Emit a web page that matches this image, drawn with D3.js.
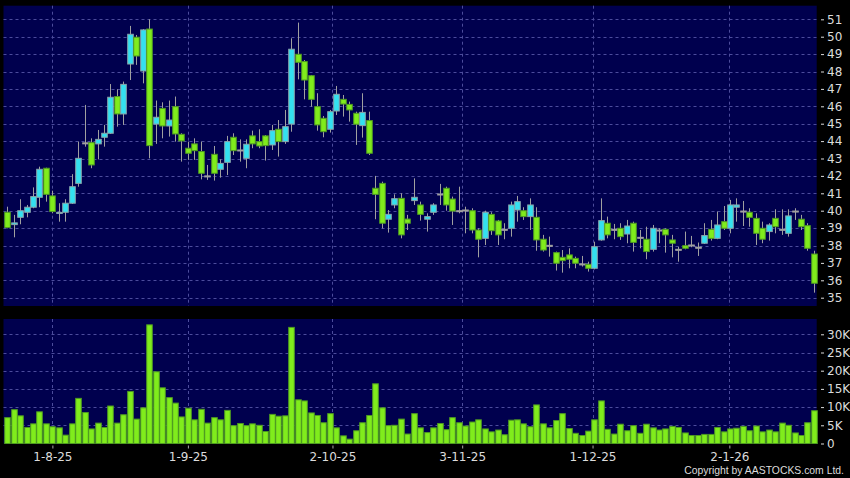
<!DOCTYPE html>
<html><head><meta charset="utf-8">
<script src="https://cdn.jsdelivr.net/npm/d3@7"></script>
<style>html,body{margin:0;padding:0;background:#000;}svg{display:block;}</style>
</head><body>
<script>
// ---- data ----
const opens  = [39.91,39.2,39.62,39.91,40.2,40.77,42.44,40.85,39.85,39.91,40.43,41.57,43.9,43.91,43.84,44.22,44.45,46.56,45.56,48.43,49.97,48.03,50.44,44.98,45.88,44.87,45.98,44.39,43.59,43.84,43.4,42.0,43.24,42.38,42.78,44.22,43.49,43.01,44.3,43.97,44.3,43.78,44.68,43.97,44.98,48.99,48.57,47.76,45.98,45.31,44.68,45.73,46.4,46.11,45.6,44.89,45.18,41.29,41.57,39.51,40.33,40.71,39.52,40.58,40.33,39.51,39.91,40.96,41.29,40.67,40.0,40.04,40.0,38.89,38.41,39.79,39.41,38.93,38.99,40.04,40.0,39.66,39.62,38.36,38.01,37.59,37.32,37.46,37.26,36.94,36.92,36.69,38.32,39.28,38.93,38.99,38.66,39.28,38.47,38.36,37.78,38.89,38.93,38.32,37.78,37.99,38.03,37.9,38.13,38.93,38.41,39.37,38.99,40.2,39.98,39.91,39.56,38.99,38.8,39.56,38.93,38.7,39.98,39.51,39.14,37.51];
const highs  = [40.23,39.76,40.66,40.33,41.34,42.53,42.47,41.15,40.43,40.66,42.1,43.97,46.08,44.16,44.64,44.93,47.28,46.98,47.42,50.62,50.1,50.43,51.0,46.33,46.23,46.33,46.56,44.45,43.97,44.16,43.97,42.63,43.72,42.95,44.3,44.45,44.1,44.1,44.6,44.68,44.35,44.93,45.21,45.79,49.91,50.81,48.66,47.8,46.75,45.44,45.79,47.17,46.65,46.27,45.69,46.75,45.69,42.0,41.67,40.04,40.94,41.0,39.76,41.86,40.52,39.85,40.43,41.54,41.38,40.81,41.38,40.23,40.14,38.99,40.0,39.91,39.47,39.28,40.52,40.85,40.2,40.71,40.2,38.61,38.51,37.65,37.74,37.84,37.36,37.4,37.07,38.22,40.71,39.66,39.24,39.28,39.47,39.37,38.89,39.08,39.18,38.99,38.99,38.61,37.93,38.8,38.55,38.17,39.28,39.47,39.95,40.27,40.62,40.71,40.56,40.14,39.85,39.37,39.28,40.08,40.08,40.08,40.14,39.76,39.28,37.7];
const lows   = [38.99,38.47,39.22,39.62,40.14,40.2,40.52,39.85,39.37,39.37,40.39,41.38,43.68,42.44,42.95,43.68,44.41,44.83,44.93,47.51,48.38,47.32,43.01,43.84,44.16,44.26,43.97,42.82,42.92,42.92,41.8,41.77,41.73,41.9,42.05,43.2,42.82,42.44,43.59,43.59,42.88,43.49,43.11,43.84,44.54,47.55,46.4,45.98,44.6,44.22,44.49,45.5,45.41,45.12,43.78,44.2,43.2,39.51,38.99,38.74,40.14,38.41,38.89,40.33,39.43,38.8,39.76,40.33,40.0,39.18,39.85,38.7,38.7,37.32,38.03,38.61,38.03,38.36,38.51,39.37,39.47,38.89,37.7,37.65,37.36,36.56,36.44,36.69,36.69,36.79,36.5,36.63,38.28,38.41,38.36,38.32,38.13,37.65,37.84,37.21,37.65,38.13,37.59,37.32,37.07,37.78,37.9,37.4,38.09,38.28,38.36,38.89,38.7,39.37,39.12,39.08,38.03,38.13,38.28,38.7,38.61,38.51,39.47,38.89,37.7,35.29];
const closes = [39.03,39.3,40.0,40.2,40.81,42.38,40.94,39.95,39.9,40.43,41.38,43.01,43.9,42.63,44.1,44.45,46.52,45.56,47.26,50.14,48.89,50.39,43.74,45.37,44.87,45.21,44.41,44.01,43.3,43.45,42.15,42.0,42.15,42.72,43.97,43.45,43.49,43.82,43.84,43.72,43.74,44.6,43.97,44.83,49.28,48.53,47.51,46.4,44.93,44.54,45.69,46.69,46.13,45.79,44.97,45.65,43.3,40.94,39.28,39.79,40.69,38.61,39.28,40.77,39.79,39.66,40.33,40.96,40.33,39.98,40.0,40.04,38.89,38.36,39.91,38.85,38.61,38.93,40.33,40.52,39.66,40.33,38.32,37.74,38.01,36.98,37.13,37.21,36.98,36.94,36.69,37.93,39.43,38.61,38.93,38.51,39.12,38.18,38.47,37.65,38.99,38.89,38.61,38.13,37.78,37.84,38.03,37.9,38.57,38.41,39.18,38.99,40.33,40.33,39.98,39.62,38.7,38.36,39.18,39.08,38.93,39.7,39.98,39.08,37.84,35.83];
const volumes = [7100,9300,7600,4400,5400,8700,5400,4600,4300,2300,5400,12400,8500,4000,5600,4400,10300,5600,7900,14300,6700,9800,32600,19700,15300,12600,11100,7300,9700,6500,9400,5600,7100,6500,9100,4900,5500,4900,5400,5000,3300,8000,7500,7600,31900,12000,11700,8400,7700,5700,8200,4300,2100,1200,3500,5700,7700,16400,9800,4900,5000,6700,2600,8200,4300,3000,4300,5500,3800,7100,5700,4800,5900,6500,4000,3200,3700,2400,6400,6500,5400,4600,10600,5400,4300,6300,8200,4100,2800,2200,3400,6500,11700,3900,2600,5300,3500,4900,2800,5300,4300,3700,4000,4700,4400,2900,2200,2200,2500,2500,4400,3200,4000,4200,4700,3500,4800,3200,3700,3200,5600,5000,2900,2200,5700,9000];
const dateTickLabels = ["1-8-25","1-9-25","2-10-25","3-11-25","1-12-25","2-1-26"];
const dateTickIndex  = [7, 28, 50.4, 70.5, 90.7, 111.9];
const priceTicks  = [35,36,37,38,39,40,41,42,43,44,45,46,47,48,49,50,51];
const volumeTicks = [0,5000,10000,15000,20000,25000,30000];
const copyrightText = "Copyright by AASTOCKS.com Ltd.";

// ---- layout ----
const W = 850, H = 478;
const panelL = 3.5, panelR = 816.7;
const priceTop = 5.7, priceBot = 306;
const volTop = 319, volBot = 443.5;
const FONT = "'DejaVu Sans', sans-serif";
const TXT = "#dcdcdc";
const PANEL = "#00004e";
const GRID = "#4c4c9c";
const CYAN = "#33e0f0", CYAN_S = "#8aa4aa";
const GREEN = "#80ec1c", GREEN_S = "#4e9a22";
const WICK = "#a0a0a0";

const svg = d3.select("body").append("svg").attr("width", W).attr("height", H)
  .style("background", "#000").style("font-family", FONT);

const n = closes.length;
const x = d3.scaleLinear().domain([0, n - 1]).range([7.2, 813.9]);
const yP = d3.scaleLinear().domain([35, 51]).range([297.7, 19.3]);
const yV = d3.scaleLinear().domain([0, 30000]).range([volBot, 334.3]);

// panels
svg.append("rect").attr("x", panelL).attr("y", priceTop).attr("width", panelR - panelL).attr("height", priceBot - priceTop).attr("fill", PANEL);
svg.append("rect").attr("x", panelL).attr("y", volTop).attr("width", panelR - panelL).attr("height", volBot - volTop).attr("fill", PANEL);

// grid
const gGrid = svg.append("g").attr("stroke", GRID).attr("stroke-width", 1).attr("stroke-dasharray", "3,3").attr("fill", "none");
gGrid.selectAll("line.hp").data(priceTicks).join("line")
  .attr("x1", panelL).attr("x2", panelR)
  .attr("y1", d => Math.round(yP(d)) + 0.5).attr("y2", d => Math.round(yP(d)) + 0.5);
gGrid.selectAll("line.hv").data(volumeTicks.filter(d => d > 0)).join("line")
  .attr("class", "hv")
  .attr("x1", panelL).attr("x2", panelR)
  .attr("y1", d => Math.round(yV(d)) + 0.5).attr("y2", d => Math.round(yV(d)) + 0.5);
dateTickIndex.forEach(t => {
  const xx = Math.round(x(t)) + 0.5;
  gGrid.append("line").attr("x1", xx).attr("x2", xx).attr("y1", priceTop).attr("y2", priceBot);
  gGrid.append("line").attr("x1", xx).attr("x2", xx).attr("y1", volTop).attr("y2", volBot);
});

// candles
const data = d3.range(n).map(i => ({i, o: opens[i], h: highs[i], l: lows[i], c: closes[i], v: volumes[i]}));
const bw = 5.6;
const gC = svg.append("g");
gC.selectAll("line.wick").data(data).join("line")
  .attr("x1", d => Math.round(x(d.i)) + 0.5).attr("x2", d => Math.round(x(d.i)) + 0.5)
  .attr("y1", d => yP(d.h)).attr("y2", d => yP(d.l))
  .attr("stroke", WICK).attr("stroke-width", 1);
gC.selectAll("rect.body").data(data).join("rect")
  .attr("x", d => Math.round(x(d.i)) + 0.5 - bw / 2)
  .attr("width", bw)
  .attr("y", d => yP(Math.max(d.o, d.c)))
  .attr("height", d => Math.max(1, Math.abs(yP(d.o) - yP(d.c))))
  .attr("fill", d => d.c > d.o ? CYAN : d.c < d.o ? GREEN : WICK)
  .attr("stroke", d => d.c > d.o ? CYAN_S : d.c < d.o ? GREEN_S : WICK)
  .attr("stroke-width", 1);

// volume bars
svg.append("g").selectAll("rect").data(data).join("rect")
  .attr("x", d => Math.round(x(d.i)) + 0.5 - bw / 2)
  .attr("width", bw)
  .attr("y", d => yV(d.v))
  .attr("height", d => yV(0) - yV(d.v))
  .attr("fill", GREEN).attr("stroke", GREEN_S).attr("stroke-width", 1);

// right axes
function styleAxis(g) {
  g.select(".domain").remove();
  g.selectAll(".tick line").attr("stroke", TXT);
  g.selectAll(".tick text").attr("fill", TXT).style("font-size", "12px").style("font-family", FONT);
}
svg.append("g").attr("transform", `translate(821,0)`)
  .call(d3.axisRight(yP).tickValues(priceTicks).tickSize(3).tickPadding(3).tickFormat(d3.format("d")))
  .call(styleAxis);
svg.append("g").attr("transform", `translate(821,0)`)
  .call(d3.axisRight(yV).tickValues(volumeTicks).tickSize(3).tickPadding(3).tickFormat(d => d === 0 ? "0" : (d / 1000) + "K"))
  .call(styleAxis);

// bottom date axis
const xAx = svg.append("g").attr("transform", `translate(0,${volBot + 2})`)
  .call(d3.axisBottom(x).tickValues(dateTickIndex).tickSize(3).tickPadding(4).tickFormat((d, k) => dateTickLabels[k]));
xAx.select(".domain").remove();
xAx.selectAll(".tick line").attr("stroke", "#aaaaaa");
xAx.selectAll(".tick text").attr("fill", TXT).style("font-size", "12px").style("font-family", FONT);

// copyright
svg.append("text").attr("x", 844).attr("y", 474).attr("text-anchor", "end")
  .attr("fill", TXT).style("font-size", "10.4px").style("font-family", "'Liberation Sans', Arial, sans-serif")
  .text(copyrightText);
</script>
</body></html>
